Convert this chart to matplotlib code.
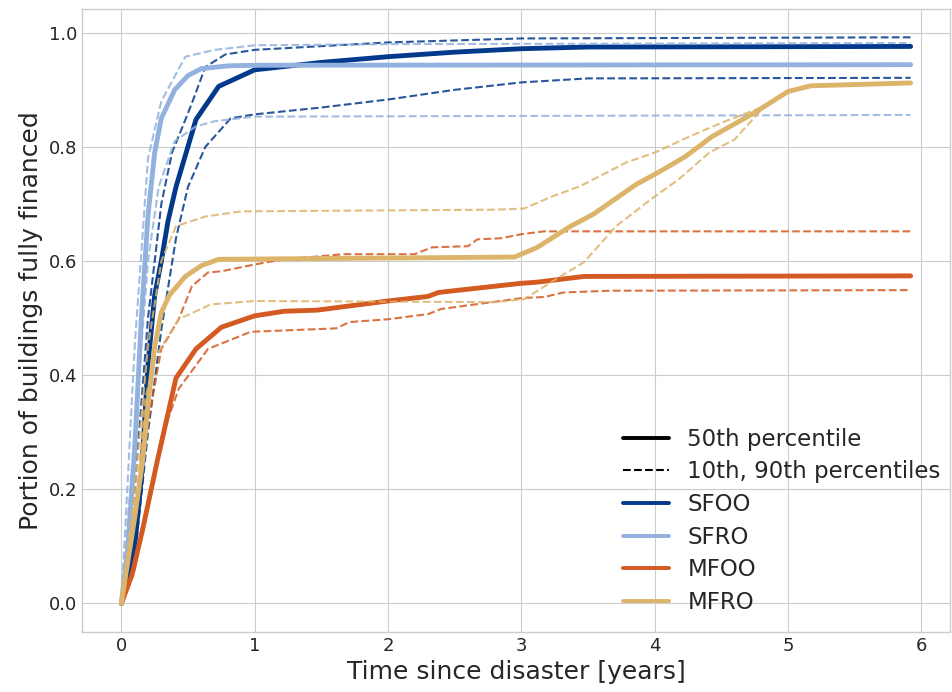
import numpy as np
import matplotlib
matplotlib.use("Agg")
import matplotlib.pyplot as plt
from matplotlib.lines import Line2D

plt.style.use("seaborn-v0_8-whitegrid")
plt.rcParams["font.family"] = ["DejaVu Sans"]

# ---- data (time in years, fraction financed) ----
groups = ["SFOO", "SFRO", "MFOO", "MFRO"]
colors = ["#03398b", "#93b1de", "#d35a20", "#dcb46a"]

# SFOO
sfoo_x50 = [0, 0.1, 0.15, 0.2, 0.25, 0.3, 0.35, 0.41, 0.56, 0.73, 1.0, 1.5, 2.0, 2.5, 3.0, 3.5, 5.92]
sfoo_y50 = [0, 0.1, 0.22, 0.42, 0.54, 0.6, 0.67, 0.73, 0.848, 0.906, 0.935, 0.948, 0.958, 0.966, 0.972, 0.975, 0.976]
sfoo_x10 = [0, 0.1, 0.2, 0.3, 0.41, 0.5, 0.63, 0.82, 1.0, 1.5, 2.0, 2.5, 3.0, 3.5, 5.92]
sfoo_y10 = [0, 0.08, 0.3, 0.48, 0.64, 0.73, 0.8, 0.85, 0.857, 0.869, 0.883, 0.9, 0.913, 0.92, 0.921]
sfoo_x90 = [0, 0.1, 0.2, 0.3, 0.38, 0.45, 0.53, 0.63, 0.78, 1.0, 2.0, 3.0, 5.92]
sfoo_y90 = [0, 0.2, 0.5, 0.7, 0.79, 0.83, 0.877, 0.94, 0.962, 0.97, 0.983, 0.99, 0.992]

# SFRO
sfro_x50 = [0, 0.05, 0.1, 0.15, 0.2, 0.25, 0.3, 0.4, 0.5, 0.6, 0.8, 1.0, 5.92]
sfro_y50 = [0, 0.1, 0.27, 0.5, 0.68, 0.79, 0.85, 0.9, 0.925, 0.937, 0.942, 0.943, 0.944]
sfro_x10 = [0, 0.1, 0.2, 0.28, 0.4, 0.56, 0.7, 1.0, 5.92]
sfro_y10 = [0, 0.3, 0.6, 0.73, 0.81, 0.836, 0.845, 0.853, 0.856]
sfro_x90 = [0, 0.1, 0.2, 0.3, 0.36, 0.48, 0.7, 1.0, 2.0, 5.92]
sfro_y90 = [0, 0.45, 0.78, 0.88, 0.906, 0.958, 0.97, 0.978, 0.98, 0.982]

# MFOO
mfoo_x50 = [0, 0.08, 0.16, 0.27, 0.41, 0.56, 0.75, 1.0, 1.22, 1.47, 2.0, 2.3, 2.38, 3.0, 3.12, 3.47, 5.92]
mfoo_y50 = [0, 0.05, 0.13, 0.25, 0.395, 0.446, 0.484, 0.504, 0.512, 0.514, 0.53, 0.538, 0.545, 0.561, 0.563, 0.573, 0.574]
mfoo_x10 = [0, 0.1, 0.2, 0.3, 0.43, 0.65, 0.97, 1.61, 1.71, 2.0, 2.3, 2.4, 3.0, 3.17, 3.32, 3.67, 5.92]
mfoo_y10 = [0, 0.06, 0.17, 0.29, 0.376, 0.446, 0.476, 0.482, 0.493, 0.498, 0.507, 0.516, 0.535, 0.537, 0.545, 0.548, 0.549]
mfoo_x90 = [0, 0.11, 0.21, 0.3, 0.43, 0.53, 0.65, 0.75, 1.0, 1.22, 1.67, 2.2, 2.33, 2.6, 2.67, 2.85, 3.0, 3.17, 5.92]
mfoo_y90 = [0, 0.154, 0.33, 0.446, 0.498, 0.556, 0.58, 0.582, 0.594, 0.603, 0.612, 0.612, 0.624, 0.626, 0.638, 0.64, 0.647, 0.652, 0.652]

# MFRO
mfro_x50 = [0, 0.1, 0.16, 0.2, 0.25, 0.3, 0.36, 0.48, 0.6, 0.73, 2.95, 3.12, 3.37, 3.54, 3.86, 4.04, 4.23, 4.43, 4.75, 5.0, 5.17, 5.92]
mfro_y50 = [0, 0.15, 0.25, 0.35, 0.45, 0.51, 0.54, 0.573, 0.592, 0.603, 0.607, 0.624, 0.661, 0.682, 0.734, 0.757, 0.783, 0.818, 0.86, 0.897, 0.907, 0.912]
mfro_x10 = [0, 0.1, 0.18, 0.26, 0.43, 0.67, 1.0, 2.8, 3.02, 3.3, 3.47, 3.71, 4.0, 4.18, 4.41, 4.6, 4.8, 5.0, 5.17, 5.92]
mfro_y10 = [0, 0.15, 0.36, 0.434, 0.498, 0.524, 0.53, 0.528, 0.533, 0.574, 0.598, 0.661, 0.713, 0.743, 0.79, 0.813, 0.865, 0.897, 0.907, 0.912]
mfro_x90 = [0, 0.1, 0.2, 0.3, 0.41, 0.63, 0.9, 2.8, 3.02, 3.24, 3.44, 3.79, 4.0, 4.26, 4.53, 4.8, 5.0, 5.17, 5.92]
mfro_y90 = [0, 0.2, 0.45, 0.6, 0.661, 0.678, 0.687, 0.69, 0.692, 0.714, 0.731, 0.773, 0.79, 0.818, 0.845, 0.869, 0.897, 0.907, 0.912]

series = {
    "SFOO": (sfoo_x50, sfoo_y50, sfoo_x10, sfoo_y10, sfoo_x90, sfoo_y90),
    "SFRO": (sfro_x50, sfro_y50, sfro_x10, sfro_y10, sfro_x90, sfro_y90),
    "MFOO": (mfoo_x50, mfoo_y50, mfoo_x10, mfoo_y10, mfoo_x90, mfoo_y90),
    "MFRO": (mfro_x50, mfro_y50, mfro_x10, mfro_y10, mfro_x90, mfro_y90),
}

fig = plt.figure(figsize=(9.52, 6.92), dpi=100)
ax = fig.add_axes([0.086, 0.087, 0.912, 0.9])

for name, c in zip(groups, colors):
    x50, y50, x10, y10, x90, y90 = series[name]
    ax.plot(x10, y10, color=c, lw=1.5, ls="--", alpha=0.85)
    ax.plot(x90, y90, color=c, lw=1.5, ls="--", alpha=0.85)
    ax.plot(x50, y50, color=c, lw=3.5)

handles = [Line2D([], [], color="black", lw=2.8, ls="-"),
           Line2D([], [], color="black", lw=1.5, ls="--")]
labels = ["50th percentile", "10th, 90th percentiles"]
for name, c in zip(groups, colors):
    handles.append(Line2D([], [], color=c, lw=2.8))
    labels.append(name)
ax.legend(handles, labels, loc="lower right", bbox_to_anchor=(1.005, 0.0065),
          fontsize=16.5, frameon=False, borderaxespad=0.2, labelspacing=0.42)

ax.set_xlabel("Time since disaster [years]", fontsize=18)
ax.set_ylabel("Portion of buildings fully financed", fontsize=18)
ax.tick_params(labelsize=13)

fig.savefig("out.png", dpi=100)
